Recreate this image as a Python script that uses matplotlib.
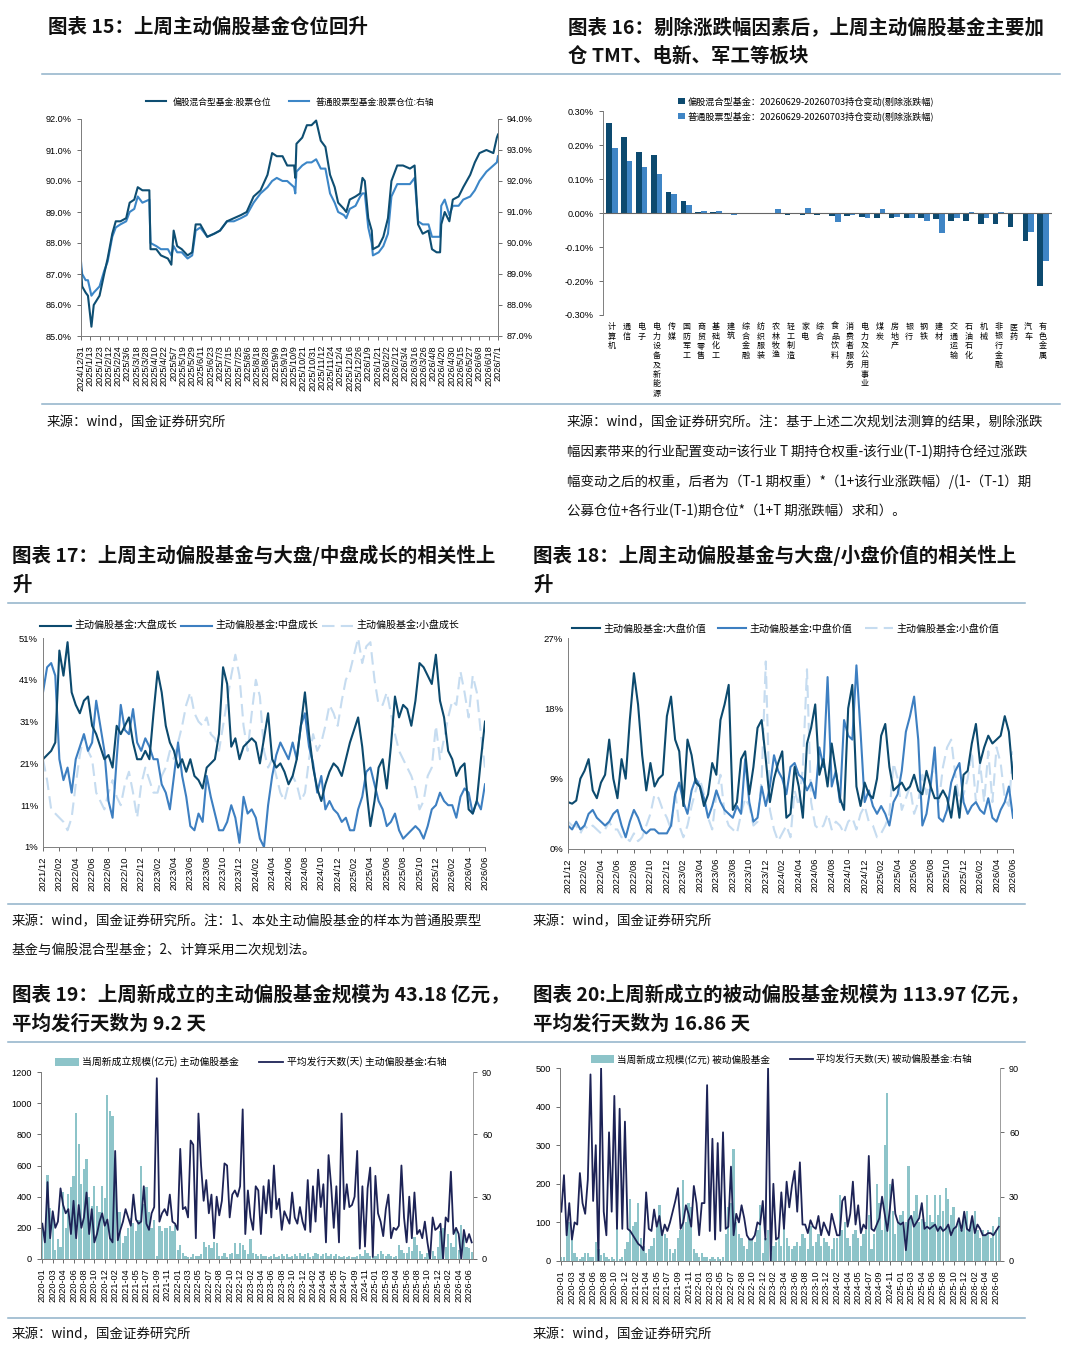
import numpy as np
import matplotlib
matplotlib.use("Agg")
import matplotlib.pyplot as plt
from matplotlib.lines import Line2D
from matplotlib.ticker import FuncFormatter

plt.rcParams['font.family'] = ['Liberation Sans', 'Noto Sans CJK SC', 'DejaVu Sans']
plt.rcParams['axes.unicode_minus'] = False

# ---------------- 图表15 数据 ----------------
lab15 = ["2024/12/31", "2025/1/13", "2025/1/23", "2025/2/12", "2025/2/24", "2025/3/6", "2025/3/18",
         "2025/3/28", "2025/4/10", "2025/4/22", "2025/5/7", "2025/5/19", "2025/5/29", "2025/6/11",
         "2025/6/23", "2025/7/3", "2025/7/15", "2025/7/25", "2025/8/6", "2025/8/18", "2025/8/28",
         "2025/9/9", "2025/9/19", "2025/10/9", "2025/10/21", "2025/10/31", "2025/11/12", "2025/11/24",
         "2025/12/4", "2025/12/16", "2025/12/26", "2026/1/9", "2026/1/21", "2026/2/2", "2026/2/12",
         "2026/3/4", "2026/3/16", "2026/3/26", "2026/4/8", "2026/4/20", "2026/4/30", "2026/5/15",
         "2026/5/27", "2026/6/8", "2026/6/18", "2026/7/1"]
# 交易日序号
t15 = [0, 1, 4, 6, 9, 11, 16, 20, 23, 27,
       30, 34, 39, 42, 46, 49, 53, 59, 60, 65,
       69, 75, 78, 80, 83, 87, 92, 96, 99, 103,
       109, 115, 120, 126, 132, 138, 143, 149, 155, 161,
       165, 169, 174, 178, 184, 185, 186, 191, 195, 199,
       203, 207, 211, 215, 219, 222, 227, 229, 232, 237,
       241, 243, 245, 248, 251, 252, 257, 261, 265, 268,
       273, 278, 284, 288, 291, 295, 300, 303, 307, 310,
       311, 314, 318, 321, 326, 330, 336, 340, 344, 350,
       356, 359, 360]
mix15 = [87.2, 86.6, 86.4, 86.3, 85.3, 86.0, 86.3, 87.0, 87.5, 88.3,
         88.7, 88.7, 88.8, 89.3, 89.4, 89.8, 89.7, 89.7, 87.8, 87.8,
         87.6, 87.5, 87.3, 88.4, 87.9, 87.8, 87.6, 87.7, 88.6, 88.6,
         88.2, 88.3, 88.4, 88.7, 88.8, 88.9, 89.0, 89.5, 89.7, 90.2,
         90.9, 90.8, 90.8, 90.5, 90.5, 90.1, 91.2, 91.4, 91.8, 91.8,
         91.95, 91.3, 91.1, 90.2, 89.8, 89.3, 89.1, 89.0, 89.4, 89.5,
         89.6, 90.1, 90.0, 88.8, 88.4, 87.8, 87.9, 88.2, 88.8, 90.0,
         90.5, 90.5, 90.4, 90.5, 88.6, 88.3, 88.4, 87.8, 87.7, 87.7,
         88.6, 89.0, 88.7, 89.4, 89.5, 89.8, 90.2, 90.6, 90.9, 91.0,
         90.9, 91.4, 91.5]
stock15 = [89.4, 89.0, 88.8, 88.8, 88.3, 88.4, 88.6, 89.1, 89.4, 90.2,
           90.5, 90.6, 90.7, 91.0, 91.1, 91.5, 91.3, 91.4, 90.0, 89.9,
           89.8, 89.8, 89.6, 89.9, 89.7, 89.7, 89.5, 89.6, 90.4, 90.5,
           90.2, 90.3, 90.4, 90.7, 90.7, 90.8, 90.9, 91.3, 91.6, 91.8,
           92.0, 92.1, 92.0, 92.0, 91.8, 91.6, 92.3, 92.5, 92.6, 92.6,
           92.7, 92.4, 92.4, 91.6, 91.3, 91.0, 90.9, 90.8, 91.1, 91.2,
           91.5, 91.6, 91.6, 90.5, 90.0, 89.6, 89.7, 89.9, 90.3, 91.5,
           91.9, 91.9, 91.9, 92.1, 90.7, 90.6, 90.6, 90.2, 90.2, 90.2,
           91.2, 91.4, 90.9, 91.2, 91.2, 91.4, 91.5, 91.7, 92.0, 92.3,
           92.5, 92.6, 92.8]

# ---------------- 图表16 数据 ----------------
ind16 = ["计算机", "通信", "电子", "电力设备及新能源", "传媒", "国防军工", "商贸零售", "基础化工",
         "建筑", "综合金融", "纺织服装", "农林牧渔", "轻工制造", "家电", "综合", "食品饮料",
         "消费者服务", "电力及公用事业", "煤炭", "房地产", "银行", "钢铁", "建材", "交通运输",
         "石油石化", "机械", "非银行金融", "医药", "汽车", "有色金属"]
mix16 = [0.264, 0.224, 0.178, 0.170, 0.062, 0.034, 0.004, 0.002, -0.002, -0.004,
         -0.004, -0.004, -0.005, -0.005, -0.007, -0.008, -0.009, -0.011, -0.014, -0.015,
         -0.015, -0.015, -0.018, -0.024, -0.024, -0.032, -0.032, -0.042, -0.083, -0.215]
stock16 = [0.192, 0.153, 0.135, 0.114, 0.055, 0.025, 0.005, 0.006, -0.006, -0.002,
           -0.003, 0.011, -0.001, 0.016, -0.003, -0.026, -0.006, -0.015, 0.012, -0.011,
           -0.014, -0.024, -0.058, -0.015, 0.002, -0.016, 0.003, 0.0, -0.055, -0.142]

# ---------------- 图表17/18 数据（半月）----------------
lab1718 = ["2021/12", "2022/02", "2022/04", "2022/06", "2022/08", "2022/10", "2022/12",
           "2023/02", "2023/04", "2023/06", "2023/08", "2023/10", "2023/12",
           "2024/02", "2024/04", "2024/06", "2024/08", "2024/10", "2024/12",
           "2025/02", "2025/04", "2025/06", "2025/08", "2025/10", "2025/12",
           "2026/02", "2026/04", "2026/06"]
big_growth = [22, 23, 24, 26, 48, 42, 50, 38, 35, 33,
              36, 37, 30, 28, 25, 22, 23, 20, 30, 28,
              30, 32, 26, 22, 22, 24, 22, 33, 43, 38,
              30, 26, 24, 20, 22, 19, 22, 18, 17, 15,
              20, 21, 22, 28, 44, 40, 25, 27, 22, 25,
              26, 27, 26, 21, 27, 33, 22, 20, 21, 19,
              16, 18, 22, 30, 38, 28, 20, 15, 12, 16,
              19, 21, 20, 18, 22, 26, 29, 32, 25, 15,
              6, 12, 20, 22, 15, 25, 37, 32, 35, 34,
              30, 36, 45, 44, 42, 40, 47, 36, 32, 24,
              22, 18, 20, 21, 10, 9, 12, 22, 31]
mid_growth = [38, 44, 45, 42, 22, 17, 20, 14, 22, 25,
              28, 24, 26, 36, 30, 24, 12, 8, 22, 35,
              29, 28, 34, 26, 24, 27, 25, 22, 22, 16,
              14, 10, 18, 26, 18, 13, 6, 5, 9, 7,
              18, 13, 9, 5, 5, 7, 11, 8, 2, 13,
              9, 10, 8, 3, 1, 11, 18, 23, 26, 24,
              22, 26, 22, 30, 33, 25, 21, 14, 18, 10,
              12, 10, 9, 7, 8, 5, 5, 10, 13, 19,
              20, 16, 12, 10, 6, 7, 9, 5, 3, 4,
              5, 6, 5, 3, 6, 10, 11, 14, 12, 11,
              11, 8, 13, 15, 14, 9, 12, 10, 16]
small_growth = [22, 17, 10, 9, 8, 7, 5, 8, 16, 23,
                28, 24, 22, 14, 12, 10, 14, 17, 13, 11,
                16, 19, 14, 8, 16, 20, 17, 14, 14, 18,
                20, 24, 22, 26, 30, 35, 38, 33, 31, 30,
                32, 28, 27, 24, 30, 36, 42, 47, 42, 30,
                24, 33, 41, 37, 24, 20, 22, 18, 14, 12,
                16, 18, 16, 12, 14, 22, 28, 24, 26, 30,
                35, 33, 30, 36, 41, 43, 47, 51, 45, 49,
                50, 41, 35, 35, 38, 33, 28, 24, 22, 20,
                18, 15, 10, 12, 18, 20, 30, 22, 27, 32,
                36, 35, 43, 38, 32, 42, 38, 28, 20]
big_value = [6.0, 5.8, 6.2, 9.0, 10.0, 11.5, 7.5, 6.5, 8.5, 9.5,
             14.0, 9.0, 6.5, 11.5, 9.0, 16.5, 22.5, 18.5, 12.0, 7.5,
             11.0, 8.0, 9.0, 9.5, 17.0, 19.5, 14.0, 12.5, 5.5, 14.0,
             12.0, 8.5, 8.0, 5.5, 7.0, 11.0, 9.5, 16.5, 18.5, 21.0,
             5.0, 6.0, 11.5, 12.5, 7.0, 10.5, 15.5, 16.5, 11.5, 6.0,
             9.0, 11.0, 12.5, 4.0, 4.5, 10.5, 8.0, 4.0, 13.5, 15.5,
             18.5, 9.5, 11.5, 8.0, 13.5, 10.0, 6.5, 5.0, 18.0, 21.0,
             8.0, 5.5, 8.5, 7.0, 6.5, 9.0, 14.5, 16.0, 10.5, 7.5,
             8.0, 8.5, 7.5, 8.0, 9.5, 7.5, 7.0, 10.0, 8.0, 6.5,
             6.5, 7.5, 6.5, 4.0, 8.0, 4.0, 9.5, 10.0, 13.5, 16.0,
             11.0, 13.0, 14.5, 13.5, 14.0, 14.5, 17.0, 15.0, 9.0]
mid_value = [3.0, 2.5, 3.5, 2.5, 3.0, 4.5, 5.0, 4.0, 3.5, 3.0,
             3.5, 4.5, 5.0, 3.0, 1.5, 3.5, 5.0, 4.0, 2.5, 2.0,
             2.5, 2.5, 2.0, 2.0, 2.0, 3.0, 7.0, 8.5, 6.0, 4.5,
             7.5, 9.0, 8.0, 6.5, 4.0, 5.5, 7.5, 6.0, 5.0, 4.5,
             4.0, 5.5, 4.5, 11.5, 6.0, 3.5, 4.0, 8.0, 5.5, 8.0,
             12.0, 10.0, 9.0, 7.0, 10.5, 11.0, 9.5, 9.0, 7.5, 8.5,
             6.5, 13.0, 10.5, 22.0, 8.0, 10.0, 6.0, 16.5, 14.5, 14.0,
             23.5, 15.0, 6.0, 7.5, 5.5, 4.5, 5.5, 4.5, 3.0, 6.0,
             7.0, 10.0, 15.0, 17.0, 19.5, 14.0, 3.0, 4.5, 8.0, 13.0,
             4.0, 3.5, 5.0, 8.5, 10.0, 11.0, 6.0, 4.5, 5.5, 6.0,
             5.0, 4.5, 6.5, 4.0, 3.5, 5.0, 6.0, 8.0, 4.0]
small_value = [3.5, 3.0, 3.0, 2.0, 3.0, 2.5, 3.0, 2.5, 2.0, 2.5,
               3.5, 2.5, 2.5, 1.5, 1.5, 1.0, 2.0, 1.0, 1.5, 3.0,
               4.5, 7.0, 6.5, 5.0, 4.0, 2.5, 7.5, 3.0, 1.5, 3.0,
               5.5, 7.5, 9.0, 7.0, 4.0, 2.5, 7.0, 9.5, 4.5, 3.0,
               2.5, 2.0, 4.5, 6.5, 5.5, 3.0, 3.5, 9.0, 24.0, 5.0,
               2.5, 1.0, 2.0, 3.0, 1.5, 7.5, 5.5, 10.5, 23.0, 6.0,
               3.0, 2.5, 3.0, 4.5, 2.5, 3.5, 3.0, 2.0, 3.5, 4.0,
               2.5, 4.5, 5.5, 3.5, 3.0, 1.5, 2.0, 3.0, 4.5, 11.0,
               9.0, 5.0, 6.5, 8.0, 4.5, 6.0, 9.5, 7.0, 9.0, 11.0,
               6.0, 10.5, 13.0, 14.0, 9.5, 6.0, 7.0, 9.0, 12.5, 6.0,
               11.0, 6.0, 12.5, 6.0, 13.0, 11.0, 6.5, 5.5, 12.5]

# ---------------- 图表19/20 数据（两周）----------------
lab1920 = ["2020-01", "2020-03", "2020-04", "2020-06", "2020-08", "2020-10", "2020-12",
           "2021-02", "2021-04", "2021-05", "2021-07", "2021-09", "2021-11",
           "2022-01", "2022-03", "2022-05", "2022-07", "2022-08", "2022-10", "2022-12",
           "2023-02", "2023-04", "2023-06", "2023-08", "2023-10", "2023-12",
           "2024-02", "2024-04", "2024-05", "2024-07", "2024-09", "2024-11",
           "2025-01", "2025-03", "2025-04", "2025-06", "2025-08", "2025-10", "2025-12",
           "2026-02", "2026-04", "2026-06"]
new_active = [200, 150, 540, 330, 300, 60, 130, 80,
              430, 200, 420, 460, 530, 940, 740, 480,
              580, 640, 400, 340, 470, 340, 300, 470,
              390, 1055, 950, 920, 650, 300, 300, 100,
              150, 200, 260, 230, 180, 250, 600, 350,
              460, 300, 200, 250, 20, 210, 180, 200,
              200, 210, 180, 220, 60, 90, 40, 20,
              15, 10, 30, 20, 20, 30, 110, 80,
              90, 70, 110, 100, 20, 20, 40, 10,
              30, 40, 100, 30, 100, 90, 60, 30,
              130, 40, 30, 20, 30, 20, 20, 10,
              20, 30, 10, 20, 30, 20, 30, 10,
              20, 30, 20, 40, 20, 30, 40, 10,
              20, 40, 30, 20, 30, 40, 20, 30,
              20, 30, 20, 10, 20, 10, 20, 10,
              10, 20, 30, 20, 60, 40, 20, 10,
              20, 30, 50, 30, 20, 30, 20, 10,
              20, 90, 60, 40, 40, 80, 50, 140,
              90, 50, 30, 10, 40, 20, 50, 20,
              80, 180, 200, 80, 160, 100, 80, 200,
              60, 220, 140, 80, 70, 45]
days_active = [17, 8, 37, 10, 23, 15, 18, 34,
               26, 22, 24, 12, 28, 10, 26, 15,
               20, 32, 12, 24, 8, 12, 18, 22,
               16, 19, 10, 8, 52, 9, 14, 18,
               24, 20, 16, 31, 19, 17, 18, 35,
               17, 14, 22, 25, 87, 18, 22, 24,
               21, 31, 18, 17, 14, 53, 24, 25,
               20, 57, 55, 10, 70, 45, 28, 38,
               22, 31, 10, 30, 21, 28, 46, 45,
               20, 31, 33, 30, 35, 72, 12, 33,
               20, 14, 35, 33, 12, 35, 22, 38,
               20, 45, 24, 29, 14, 23, 20, 17,
               32, 20, 17, 25, 18, 14, 38, 13,
               35, 18, 43, 25, 36, 8, 50, 35,
               15, 35, 8, 70, 24, 36, 25, 26,
               30, 52, 5, 35, 6, 34, 44, 1,
               40, 22, 18, 11, 24, 31, 10, 15,
               14, 16, 45, 20, 8, 30, 10, 32,
               12, 14, 10, 18, 8, 0, 20, 14,
               15, 17, 0, 20, 18, 42, 12, 15,
               12, 0, 14, 8, 12, 8]
new_passive = [10, 10, 90, 100, 80, 20, 10, 5,
               10, 20, 20, 10, 10, 50, 30, 15,
               20, 10, 5, 10, 5, 120, 5, 10,
               30, 50, 160, 90, 100, 150, 60, 40,
               20, 30, 40, 60, 90, 145, 80, 70,
               60, 30, 20, 30, 60, 80, 210, 100,
               150, 140, 30, 20, 10, 20, 10, 10,
               5, 10, 5, 10, 5, 10, 70, 140,
               150, 290, 100, 70, 60, 40, 30, 60,
               60, 50, 80, 145, 20, 60, 80, 20,
               40, 50, 60, 40, 100, 60, 40, 30,
               40, 50, 40, 70, 60, 30, 90, 40,
               50, 70, 40, 60, 50, 40, 30, 60,
               60, 170, 80, 100, 60, 40, 70, 80,
               60, 40, 70, 80, 120, 30, 70, 200,
               150, 80, 300, 435, 200, 130, 70, 100,
               120, 130, 100, 245, 120, 130, 170, 100,
               110, 100, 170, 120, 100, 170, 120, 170,
               130, 190, 160, 120, 140, 90, 100, 80,
               110, 130, 80, 100, 130, 80, 60, 80,
               70, 80, 60, 90, 80, 115]
days_passive = [23, 40, 12, 27, 10, 18, 17, 41,
                27, 22, 38, 87, 28, 54, 0, 90,
                23, 12, 60, 23, 77, 15, 71, 15,
                65, 15, 14, 12, 10, 8, 7, 5,
                32, 15, 14, 24, 16, 21, 12, 17,
                14, 18, 23, 28, 34, 15, 18, 26,
                22, 16, 35, 27, 12, 27, 27, 82,
                14, 57, 10, 55, 14, 60, 15, 16,
                44, 12, 22, 18, 26, 20, 12, 10,
                10, 12, 18, 17, 28, 10, 90, 0,
                36, 10, 11, 32, 15, 37, 25, 35,
                42, 23, 46, 17, 17, 13, 19, 16,
                15, 21, 12, 18, 15, 12, 22, 17,
                12, 12, 28, 30, 16, 22, 37, 17,
                26, 13, 17, 15, 49, 15, 14, 17,
                20, 30, 22, 14, 25, 38, 22, 18,
                17, 18, 5, 19, 21, 16, 18, 20,
                27, 15, 16, 15, 16, 17, 14, 16,
                14, 15, 17, 12, 15, 16, 20, 14,
                23, 15, 14, 21, 13, 17, 15, 12,
                12, 13, 13, 12, 14, 16]

# ---------------- 画布 ----------------
W, H = 1080, 1350
fig = plt.figure(figsize=(W / 100, H / 100), dpi=100)
fig.patch.set_facecolor("white")

CJK = ['Noto Sans CJK SC', 'DejaVu Sans']
SEP = "#8FB1C9"


def ftext(x, y, s, size=9.7, bold=False):
    fig.text(x / W, 1 - y / H, s, ha='left', va='center', fontsize=size,
             family=CJK, fontweight='bold' if bold else 'normal', color="#111111")


def hline(y, x0, x1):
    fig.add_artist(Line2D([x0 / W, x1 / W], [1 - y / H] * 2, color=SEP, lw=1.1))


def axbox(l, t, r, b):
    return fig.add_axes([l / W, 1 - b / H, (r - l) / W, (b - t) / H])


def style(ax, size=6.5):
    ax.tick_params(labelsize=size, length=3, width=0.6, color="#555555")
    for s in ax.spines.values():
        s.set_color("#7f7f7f")
        s.set_linewidth(0.7)


# 标题与分隔线
ftext(48, 27, "图表 15：上周主动偏股基金仓位回升", 14, True)
ftext(568, 27, "图表 16：剔除涨跌幅因素后，上周主动偏股基金主要加", 14, True)
ftext(568, 56, "仓 TMT、电新、军工等板块", 14, True)
hline(74, 42, 1060)
hline(404, 42, 1060)
ftext(47, 422, "来源：wind，国金证券研究所")
ftext(567, 422, "来源：wind，国金证券研究所。注：基于上述二次规划法测算的结果，剔除涨跌")
ftext(567, 452, "幅因素带来的行业配置变动=该行业 T 期持仓权重-该行业(T-1)期持仓经过涨跌")
ftext(567, 482, "幅变动之后的权重，后者为（T-1 期权重）*（1+该行业涨跌幅）/(1-（T-1）期")
ftext(567, 511, "公募仓位+各行业(T-1)期仓位*（1+T 期涨跌幅）求和）。")

ftext(12, 555, "图表 17：上周主动偏股基金与大盘/中盘成长的相关性上", 14, True)
ftext(12, 585, "升", 14, True)
ftext(533, 555, "图表 18：上周主动偏股基金与大盘/小盘价值的相关性上", 14, True)
ftext(533, 585, "升", 14, True)
hline(603, 8, 1025)
hline(904, 8, 1025)
ftext(12, 921, "来源：wind，国金证券研究所。注：1、本处主动偏股基金的样本为普通股票型")
ftext(12, 950, "基金与偏股混合型基金；2、计算采用二次规划法。")
ftext(533, 921, "来源：wind，国金证券研究所")

ftext(12, 995, "图表 19：上周新成立的主动偏股基金规模为 43.18 亿元，", 14, True)
ftext(12, 1024, "平均发行天数为 9.2 天", 14, True)
ftext(533, 995, "图表 20:上周新成立的被动偏股基金规模为 113.97 亿元，", 14, True)
ftext(533, 1024, "平均发行天数为 16.86 天", 14, True)
hline(1042, 8, 1025)
hline(1318, 8, 1025)
ftext(12, 1334, "来源：wind，国金证券研究所")
ftext(533, 1334, "来源：wind，国金证券研究所")

# ---------------- 图表15 ----------------
DARK15, LIGHT15 = "#0E4E72", "#3C86C7"
ax = axbox(81, 119, 498, 336)
style(ax, 6.6)
l1, = ax.plot(t15, mix15, color=DARK15, lw=1.5)
ax.set_ylim(85, 92)
ax.set_xlim(0, 360)
ax.yaxis.set_major_formatter(FuncFormatter(lambda v, p: f"{v:.1f}%"))
ax.set_xticks(np.arange(len(lab15)) * 8)
ax.set_xticklabels(lab15, rotation=90, fontsize=6.6)
ax.spines['top'].set_visible(False)
ax2 = ax.twinx()
style(ax2, 6.6)
l2, = ax2.plot(t15, stock15, color=LIGHT15, lw=1.5)
ax2.set_ylim(87, 94)
ax2.yaxis.set_major_formatter(FuncFormatter(lambda v, p: f"{v:.1f}%"))
ax2.spines['top'].set_visible(False)
ax.set_zorder(ax2.get_zorder() + 1)
ax.patch.set_visible(False)
fig.legend([l1, l2], ["偏股混合型基金:股票仓位", "普通股票型基金:股票仓位:右轴"],
           loc='center', bbox_to_anchor=(290 / W, 1 - 102 / H), ncol=2, frameon=False,
           handlelength=2.3, columnspacing=2.0, prop={'family': CJK, 'size': 6.3})

# ---------------- 图表16 ----------------
ax = axbox(603, 111, 1052, 315)
style(ax, 6.6)
x16 = np.arange(len(ind16))
b1 = ax.bar(x16 - 0.19, mix16, width=0.38, color="#0D4A6F")
b2 = ax.bar(x16 + 0.19, stock16, width=0.38, color="#3F85C5")
ax.axhline(0, color="#666666", lw=0.8)
ax.set_ylim(-0.30, 0.30)
ax.set_xlim(-0.6, len(ind16) - 0.4)
ax.set_yticks(np.arange(-0.30, 0.31, 0.10))
ax.yaxis.set_major_formatter(FuncFormatter(lambda v, p: f"{v:.2f}%"))
ax.set_xticks(x16)
ax.set_xticklabels(["\n".join(c) for c in ind16], family=CJK, fontsize=5.8,
                   linespacing=1.08, va='top')
ax.tick_params(axis='x', length=0, pad=5)
for s in ['top', 'right', 'bottom']:
    ax.spines[s].set_visible(False)
fig.legend([b1, b2], ["偏股混合型基金：20260629-20260703持仓变动(剔除涨跌幅)",
                      "普通股票型基金：20260629-20260703持仓变动(剔除涨跌幅)"],
           loc='upper left', bbox_to_anchor=(670 / W, 1 - 88 / H), ncol=1, frameon=False,
           handlelength=0.7, handleheight=0.7, handletextpad=0.3, labelspacing=0.55,
           prop={'family': CJK, 'size': 6.6})

# ---------------- 图表17 / 18 ----------------
C_DARK, C_MID, C_LIGHT = "#0C4A6E", "#3D7FC1", "#C6DCF0"


def corr_panel(box, s_big, s_mid, s_small, names, ylim, yticks, legend_xy, hlen, cspace):
    ax = axbox(*box)
    style(ax, 6.8)
    xs = np.arange(len(s_big))
    ls = ax.plot(xs, s_small, color=C_LIGHT, lw=1.5, dashes=(6, 3))[0]
    lm = ax.plot(xs, s_mid, color=C_MID, lw=1.5)[0]
    lb = ax.plot(xs, s_big, color=C_DARK, lw=1.5)[0]
    ax.set_xlim(0, len(s_big) - 1)
    ax.set_ylim(*ylim)
    ax.set_yticks(yticks)
    ax.yaxis.set_major_formatter(FuncFormatter(lambda v, p: f"{v:.0f}%"))
    ax.set_xticks(np.arange(len(lab1718)) * 4)
    ax.set_xticklabels(lab1718, rotation=90, fontsize=6.8)
    ax.tick_params(axis='y', length=0)
    for s in ['top', 'right']:
        ax.spines[s].set_visible(False)
    fig.legend([lb, lm, ls], names, loc='center left',
               bbox_to_anchor=(legend_xy[0] / W, 1 - legend_xy[1] / H), ncol=3, frameon=False,
               handlelength=hlen, handletextpad=0.35, columnspacing=cspace,
               prop={'family': CJK, 'size': 7.2})


corr_panel((43, 638, 485, 847), big_growth, mid_growth, small_growth,
           ["主动偏股基金:大盘成长", "主动偏股基金:中盘成长", "主动偏股基金:小盘成长"],
           (1, 51), np.arange(1, 52, 10), (31, 626), 3.1, 0.35)
corr_panel((568, 638, 1013, 849), big_value, mid_value, small_value,
           ["主动偏股基金:大盘价值", "主动偏股基金:中盘价值", "主动偏股基金:小盘价值"],
           (0, 27), np.arange(0, 28, 9), (563, 629), 2.8, 1.2)

# ---------------- 图表19 / 20 ----------------
C_BAR, C_LINE = "#8DC4C9", "#1D2356"


def issue_panel(box, bars, days, lmax, lstep, names, legend_xy, fsize, cspace):
    ax = axbox(*box)
    style(ax, 6.6)
    xs = np.arange(len(bars))
    bc = ax.bar(xs, bars, width=0.85, color=C_BAR)
    ax.set_ylim(0, lmax)
    ax.set_yticks(np.arange(0, lmax + 1, lstep))
    ax.set_xlim(-0.5, len(bars) - 0.5)
    ax.set_xticks(np.arange(len(lab1920)) * 4)
    ax.set_xticklabels(lab1920, rotation=90, fontsize=6.6)
    ax.spines['top'].set_visible(False)
    axr = ax.twinx()
    style(axr, 6.6)
    ln, = axr.plot(xs, days, color=C_LINE, lw=1.3)
    axr.set_ylim(0, 90)
    axr.set_yticks([0, 30, 60, 90])
    axr.spines['top'].set_visible(False)
    axr.spines['right'].set_color("#a0a0a0")
    fig.legend([bc, ln], names, loc='center left',
               bbox_to_anchor=(legend_xy[0] / W, 1 - legend_xy[1] / H), ncol=2, frameon=False,
               handlelength=2.4, handleheight=0.8, handletextpad=0.4, columnspacing=cspace,
               prop={'family': CJK, 'size': fsize})


issue_panel((41, 1072, 473, 1259), new_active, days_active, 1200, 200,
            ["当周新成立规模(亿元) 主动偏股基金", "平均发行天数(天) 主动偏股基金:右轴"], (46, 1062),
            7.1, 2.0)
issue_panel((560, 1068, 1000, 1261), new_passive, days_passive, 500, 100,
            ["当周新成立规模(亿元) 被动偏股基金", "平均发行天数(天) 被动偏股基金:右轴"], (582, 1059),
            6.9, 2.0)

fig.savefig("out.png", dpi=100, facecolor="white")
